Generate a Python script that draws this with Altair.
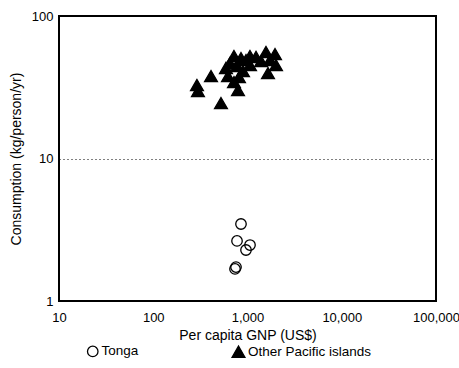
import altair as alt
import pandas as pd

tonga_gnp = [853, 774, 964, 1063, 755, 737]
tonga_cons = [3.47, 2.64, 2.28, 2.47, 1.73, 1.68]

other_gnp = [291, 298, 410, 523, 591, 652, 719, 774, 719, 793, 812, 896, 964, 1063, 1231,
             1391, 1572, 1733, 1650, 1958, 2006, 1063, 853, 621]
other_cons = [32.8, 29.8, 37.9, 24.5, 43.2, 46.8, 52.4, 44.6, 34.4, 30.2, 37.3, 41.1, 49.1,
              45.3, 51.6, 48.3, 55.9, 49.1, 39.8, 54.1, 45.3, 52.4, 50.7, 37.9]

series = ["Tonga", "Other Pacific islands"]

df = pd.DataFrame({
    "gnp": tonga_gnp + other_gnp,
    "cons": tonga_cons + other_cons,
    "group": [series[0]] * len(tonga_gnp) + [series[1]] * len(other_gnp),
})

FONT = "Liberation Sans"

leg = dict(title=None, orient="none", legendX=27, legendY=328,
           direction="horizontal", columnPadding=90,
           labelFontSize=13.5, labelFont=FONT, labelColor="black",
           symbolStrokeWidth=1.3, labelOffset=2)

chart = alt.Chart(df).mark_point(strokeWidth=1.3, opacity=1).encode(
    x=alt.X("gnp:Q", scale=alt.Scale(type="log", domain=[10, 100000], nice=False),
            axis=alt.Axis(values=[10, 100, 1000, 10000, 100000], format=",", grid=False,
                          ticks=False, domain=False, labelPadding=10, labelFontSize=13,
                          labelColor="black", labelFont=FONT, labelOverlap=False,
                          labelBound=False, labelFlush=False,
                          title="Per capita GNP (US$)", titleFontSize=14,
                          titleFontWeight="normal", titleFont=FONT, titleColor="black",
                          titlePadding=4)),
    y=alt.Y("cons:Q", scale=alt.Scale(type="log", domain=[1, 100], nice=False),
            axis=alt.Axis(values=[1, 10, 100], format=",", grid=True, gridColor="black",
                          gridDash=[1, 3], gridWidth=1, ticks=False, domain=False,
                          labelPadding=6, labelFontSize=13, labelColor="black",
                          labelFont=FONT, labelFlush=False,
                          title="Consumption (kg/person/yr)", titleFontSize=14,
                          titleFontWeight="normal", titleFont=FONT, titleColor="black",
                          titlePadding=8)),
    shape=alt.Shape("group:N", scale=alt.Scale(domain=series, range=["circle", "triangle-up"]),
                    legend=alt.Legend(**leg)),
    fill=alt.Fill("group:N", scale=alt.Scale(domain=series, range=["transparent", "black"]),
                  legend=alt.Legend(**leg)),
    stroke=alt.Stroke("group:N", scale=alt.Scale(domain=series, range=["black", "black"]),
                      legend=alt.Legend(**leg)),
    size=alt.Size("group:N", scale=alt.Scale(domain=series, range=[110, 165]),
                  legend=alt.Legend(**leg)),
).properties(
    width=377, height=285,
    autosize=alt.AutoSizeParams(type="none"),
    padding={"left": 59, "top": 16, "right": 23, "bottom": 67},
    background="white",
).configure_view(stroke="black", strokeWidth=2)

chart.save("out.html", embed_options={"renderer": "svg", "actions": False})
